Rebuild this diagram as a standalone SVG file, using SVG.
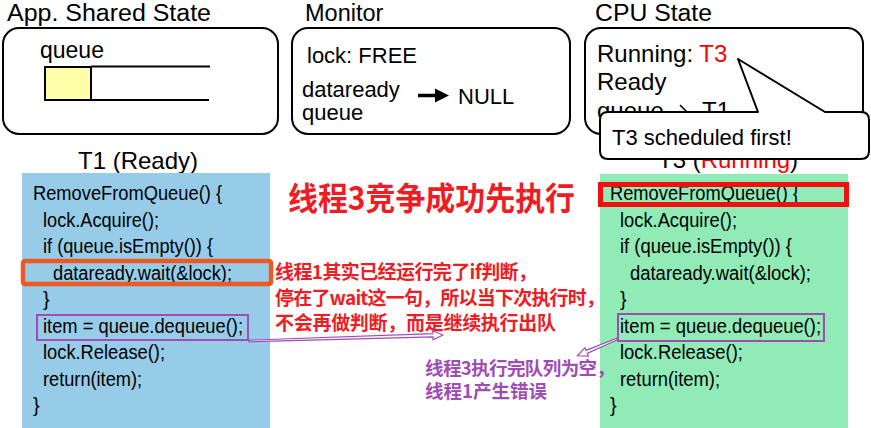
<svg xmlns="http://www.w3.org/2000/svg" width="871" height="428" viewBox="0 0 871 428">
  <style>
    .t { font-family: "Liberation Sans", Arial, sans-serif; fill: #000; }
    .title { font-size: 24px; }
    .head { font-size: 23.5px; }
    .lbl { font-size: 22px; }
    .code { font-family: "Liberation Sans", Arial, sans-serif; font-size: 20px; fill: #000; }
    .panel { fill: #fff; stroke: #000; stroke-width: 2; }
    .cjk { font-family: "Noto Sans CJK SC", "Noto Sans", sans-serif; font-weight: bold; }
    .red { fill: #ee1d25; }
    .purple { fill: #9f4db5; }
    .hl { fill: none; stroke: #9f4db5; stroke-width: 2; }
    .harrow { fill: #fff; stroke: #9f4db5; stroke-width: 1.2; stroke-linejoin: miter; }
  </style>

  <!-- shared state panel -->
  <g id="app-state">
    <text class="t head" x="7" y="21" textLength="204" lengthAdjust="spacingAndGlyphs">App. Shared State</text>
    <rect class="panel" x="3" y="28" width="275" height="106" rx="16"/>
    <text class="t lbl" x="40" y="58" style="font-size:23px">queue</text>
    <rect x="45" y="67" width="46" height="33" fill="#ffffaa" stroke="#000" stroke-width="2"/>
    <line x1="91" y1="66.5" x2="210" y2="66.5" stroke="#000" stroke-width="2"/>
    <line x1="91" y1="100" x2="209" y2="100" stroke="#000" stroke-width="2"/>
  </g>

  <!-- monitor panel -->
  <g id="monitor">
    <text class="t head" x="305" y="21">Monitor</text>
    <rect class="panel" x="292" y="28" width="278" height="106" rx="16"/>
    <text class="t lbl" x="307" y="63">lock: FREE</text>
    <text class="t lbl" x="302" y="97">dataready</text>
    <text class="t lbl" x="302" y="120">queue</text>
    <line x1="418" y1="95.5" x2="440" y2="95.5" stroke="#000" stroke-width="3.5"/>
    <polygon points="435,88.5 449,95.5 435,102.5" fill="#000"/>
    <text class="t lbl" x="458" y="104">NULL</text>
  </g>

  <!-- cpu state panel -->
  <g id="cpu-state">
    <text class="t head" x="595" y="21" textLength="117" lengthAdjust="spacingAndGlyphs">CPU State</text>
    <rect class="panel" x="585" y="28" width="278" height="106" rx="16"/>
    <text class="t title" x="597" y="62">Running: <tspan fill="#ff0000">T3</tspan></text>
    <text class="t title" x="597" y="90">Ready</text>
    <text class="t title" x="597" y="119">queue</text>
    <line x1="666" y1="115" x2="686" y2="115" stroke="#000" stroke-width="1.5"/>
    <polyline points="680,105 690,115 680,125" fill="none" stroke="#000" stroke-width="1.5"/>
    <text class="t title" x="702" y="119">T1</text>
  </g>

  <!-- thread T1 code -->
  <g id="t1">
    <text class="t title" x="78" y="169">T1 (Ready)</text>
    <rect x="22" y="173" width="248" height="255" fill="#97cce8"/>
    <text class="code" x="33" y="200" textLength="189" lengthAdjust="spacingAndGlyphs">RemoveFromQueue() {</text>
    <text class="code" x="43" y="226.5" textLength="116" lengthAdjust="spacingAndGlyphs">lock.Acquire();</text>
    <text class="code" x="43" y="253" textLength="170" lengthAdjust="spacingAndGlyphs">if (queue.isEmpty()) {</text>
    <text class="code" x="53" y="279.5" textLength="179" lengthAdjust="spacingAndGlyphs">dataready.wait(&amp;lock);</text>
    <text class="code" x="43" y="306">}</text>
    <text class="code" x="43" y="332.5" textLength="200" lengthAdjust="spacingAndGlyphs">item = queue.dequeue();</text>
    <text class="code" x="43" y="359" textLength="122" lengthAdjust="spacingAndGlyphs">lock.Release();</text>
    <text class="code" x="43" y="385.5" textLength="99" lengthAdjust="spacingAndGlyphs">return(item);</text>
    <text class="code" x="33" y="412">}</text>
    <rect x="23" y="261" width="248" height="23" rx="2" fill="none" stroke="#ec5a24" stroke-width="4.5"/>
    <rect class="hl" x="37" y="315" width="211" height="25"/>
  </g>

  <!-- thread T3 code -->
  <g id="t3">
    <text class="t title" x="658" y="168">T3 (<tspan fill="#ff0000">Running</tspan>)</text>
    <rect x="600" y="174" width="248" height="254" fill="#90ebb6"/>
    <text class="code" x="610" y="200" textLength="189" lengthAdjust="spacingAndGlyphs">RemoveFromQueue() {</text>
    <text class="code" x="620" y="226.5" textLength="117" lengthAdjust="spacingAndGlyphs">lock.Acquire();</text>
    <text class="code" x="620" y="253" textLength="172" lengthAdjust="spacingAndGlyphs">if (queue.isEmpty()) {</text>
    <text class="code" x="630" y="279.5" textLength="181" lengthAdjust="spacingAndGlyphs">dataready.wait(&amp;lock);</text>
    <text class="code" x="620" y="306">}</text>
    <text class="code" x="620" y="332.5" textLength="201" lengthAdjust="spacingAndGlyphs">item = queue.dequeue();</text>
    <text class="code" x="620" y="359" textLength="123" lengthAdjust="spacingAndGlyphs">lock.Release();</text>
    <text class="code" x="620" y="385.5" textLength="100" lengthAdjust="spacingAndGlyphs">return(item);</text>
    <text class="code" x="610" y="412">}</text>
    <rect x="600.5" y="184.5" width="246" height="20" fill="none" stroke="#f01010" stroke-width="5"/>
    <rect class="hl" x="618" y="314" width="206" height="27"/>
  </g>

  <!-- annotations -->
  <g id="notes">
    <text class="cjk red" x="288" y="210" style="font-size:32px" textLength="287" lengthAdjust="spacingAndGlyphs">线程3竞争成功先执行</text>
    <text class="cjk red" style="font-size:19px" x="275" y="279" textLength="262">线程1其实已经运行完了if判断，</text>
    <text class="cjk red" style="font-size:19px" x="275" y="304.5" textLength="330">停在了wait这一句，所以当下次执行时，</text>
    <text class="cjk red" style="font-size:19px" x="275" y="330" textLength="281">不会再做判断，而是继续执行出队</text>
    <text class="cjk purple" style="font-size:18.5px" x="425" y="374.5" textLength="190">线程3执行完队列为空，</text>
    <text class="cjk purple" style="font-size:18.5px" x="425" y="398" textLength="122">线程1产生错误</text>
  </g>

  <!-- connectors: hollow arrows -->
  <g id="connectors">
    <polygon class="harrow" transform="translate(249,341) rotate(-1.77)" points="0,-0.8 184,-1.6 184,-4.5 194,0 184,4.5 184,1.6 0,0.8"/>
    <polygon class="harrow" transform="translate(617,339) rotate(157)" points="0,-0.8 33,-1.6 33,-4.5 43,0 33,4.5 33,1.6 0,0.8"/>
  </g>

  <!-- callout -->
  <g id="callout">
    <path d="M608,112 L758,112 L738,59 L825,112 L861,112 Q869,112 869,120 L869,151 Q869,159 861,159 L608,159 Q600,159 600,151 L600,120 Q600,112 608,112 Z" fill="#fff" stroke="#000" stroke-width="2" stroke-linejoin="round"/>
    <text class="t lbl" x="612" y="145">T3 scheduled first!</text>
  </g>
</svg>
